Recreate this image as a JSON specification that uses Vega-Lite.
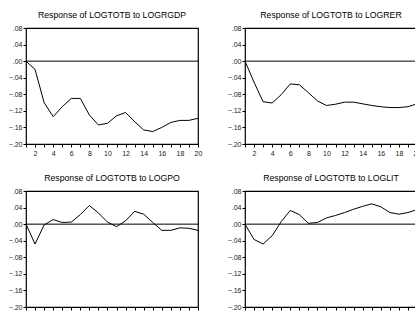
{
  "$schema": "https://vega.github.io/schema/vega-lite/v6.json",
  "padding": {"left": 7, "top": 10, "right": 0, "bottom": 0},
  "background": "white",
  "config": {
    "font": "Liberation Sans",
    "view": {"stroke": "black", "strokeWidth": 1.2},
    "axis": {"domain": false, "grid": false, "tickColor": "black", "tickSize": 3, "labelFontSize": 7, "labelColor": "#222", "title": null}
  },
  "data": {"values": [
    {"p": "Response of LOGTOTB to LOGRGDP", "h": 1, "v": 0},
    {"p": "Response of LOGTOTB to LOGRGDP", "h": 2, "v": -0.02},
    {"p": "Response of LOGTOTB to LOGRGDP", "h": 3, "v": -0.10},
    {"p": "Response of LOGTOTB to LOGRGDP", "h": 4, "v": -0.134},
    {"p": "Response of LOGTOTB to LOGRGDP", "h": 5, "v": -0.11},
    {"p": "Response of LOGTOTB to LOGRGDP", "h": 6, "v": -0.09},
    {"p": "Response of LOGTOTB to LOGRGDP", "h": 7, "v": -0.09},
    {"p": "Response of LOGTOTB to LOGRGDP", "h": 8, "v": -0.13},
    {"p": "Response of LOGTOTB to LOGRGDP", "h": 9, "v": -0.154},
    {"p": "Response of LOGTOTB to LOGRGDP", "h": 10, "v": -0.15},
    {"p": "Response of LOGTOTB to LOGRGDP", "h": 11, "v": -0.132},
    {"p": "Response of LOGTOTB to LOGRGDP", "h": 12, "v": -0.124},
    {"p": "Response of LOGTOTB to LOGRGDP", "h": 13, "v": -0.146},
    {"p": "Response of LOGTOTB to LOGRGDP", "h": 14, "v": -0.166},
    {"p": "Response of LOGTOTB to LOGRGDP", "h": 15, "v": -0.17},
    {"p": "Response of LOGTOTB to LOGRGDP", "h": 16, "v": -0.16},
    {"p": "Response of LOGTOTB to LOGRGDP", "h": 17, "v": -0.148},
    {"p": "Response of LOGTOTB to LOGRGDP", "h": 18, "v": -0.143},
    {"p": "Response of LOGTOTB to LOGRGDP", "h": 19, "v": -0.143},
    {"p": "Response of LOGTOTB to LOGRGDP", "h": 20, "v": -0.138},
    {"p": "Response of LOGTOTB to LOGRER", "h": 1, "v": 0},
    {"p": "Response of LOGTOTB to LOGRER", "h": 2, "v": -0.051},
    {"p": "Response of LOGTOTB to LOGRER", "h": 3, "v": -0.098},
    {"p": "Response of LOGTOTB to LOGRER", "h": 4, "v": -0.101},
    {"p": "Response of LOGTOTB to LOGRER", "h": 5, "v": -0.081},
    {"p": "Response of LOGTOTB to LOGRER", "h": 6, "v": -0.055},
    {"p": "Response of LOGTOTB to LOGRER", "h": 7, "v": -0.057},
    {"p": "Response of LOGTOTB to LOGRER", "h": 8, "v": -0.076},
    {"p": "Response of LOGTOTB to LOGRER", "h": 9, "v": -0.096},
    {"p": "Response of LOGTOTB to LOGRER", "h": 10, "v": -0.107},
    {"p": "Response of LOGTOTB to LOGRER", "h": 11, "v": -0.104},
    {"p": "Response of LOGTOTB to LOGRER", "h": 12, "v": -0.099},
    {"p": "Response of LOGTOTB to LOGRER", "h": 13, "v": -0.099},
    {"p": "Response of LOGTOTB to LOGRER", "h": 14, "v": -0.103},
    {"p": "Response of LOGTOTB to LOGRER", "h": 15, "v": -0.107},
    {"p": "Response of LOGTOTB to LOGRER", "h": 16, "v": -0.110},
    {"p": "Response of LOGTOTB to LOGRER", "h": 17, "v": -0.112},
    {"p": "Response of LOGTOTB to LOGRER", "h": 18, "v": -0.112},
    {"p": "Response of LOGTOTB to LOGRER", "h": 19, "v": -0.110},
    {"p": "Response of LOGTOTB to LOGRER", "h": 20, "v": -0.103},
    {"p": "Response of LOGTOTB to LOGPO", "h": 1, "v": 0},
    {"p": "Response of LOGTOTB to LOGPO", "h": 2, "v": -0.048},
    {"p": "Response of LOGTOTB to LOGPO", "h": 3, "v": -0.002},
    {"p": "Response of LOGTOTB to LOGPO", "h": 4, "v": 0.011},
    {"p": "Response of LOGTOTB to LOGPO", "h": 5, "v": 0.004},
    {"p": "Response of LOGTOTB to LOGPO", "h": 6, "v": 0.005},
    {"p": "Response of LOGTOTB to LOGPO", "h": 7, "v": 0.023},
    {"p": "Response of LOGTOTB to LOGPO", "h": 8, "v": 0.045},
    {"p": "Response of LOGTOTB to LOGPO", "h": 9, "v": 0.027},
    {"p": "Response of LOGTOTB to LOGPO", "h": 10, "v": 0.005},
    {"p": "Response of LOGTOTB to LOGPO", "h": 11, "v": -0.006},
    {"p": "Response of LOGTOTB to LOGPO", "h": 12, "v": 0.008},
    {"p": "Response of LOGTOTB to LOGPO", "h": 13, "v": 0.031},
    {"p": "Response of LOGTOTB to LOGPO", "h": 14, "v": 0.024},
    {"p": "Response of LOGTOTB to LOGPO", "h": 15, "v": 0.004},
    {"p": "Response of LOGTOTB to LOGPO", "h": 16, "v": -0.015},
    {"p": "Response of LOGTOTB to LOGPO", "h": 17, "v": -0.015},
    {"p": "Response of LOGTOTB to LOGPO", "h": 18, "v": -0.009},
    {"p": "Response of LOGTOTB to LOGPO", "h": 19, "v": -0.010},
    {"p": "Response of LOGTOTB to LOGPO", "h": 20, "v": -0.015},
    {"p": "Response of LOGTOTB to LOGLIT", "h": 1, "v": 0},
    {"p": "Response of LOGTOTB to LOGLIT", "h": 2, "v": -0.037},
    {"p": "Response of LOGTOTB to LOGLIT", "h": 3, "v": -0.048},
    {"p": "Response of LOGTOTB to LOGLIT", "h": 4, "v": -0.028},
    {"p": "Response of LOGTOTB to LOGLIT", "h": 5, "v": 0.006},
    {"p": "Response of LOGTOTB to LOGLIT", "h": 6, "v": 0.033},
    {"p": "Response of LOGTOTB to LOGLIT", "h": 7, "v": 0.023},
    {"p": "Response of LOGTOTB to LOGLIT", "h": 8, "v": 0.002},
    {"p": "Response of LOGTOTB to LOGLIT", "h": 9, "v": 0.004},
    {"p": "Response of LOGTOTB to LOGLIT", "h": 10, "v": 0.015},
    {"p": "Response of LOGTOTB to LOGLIT", "h": 11, "v": 0.021},
    {"p": "Response of LOGTOTB to LOGLIT", "h": 12, "v": 0.028},
    {"p": "Response of LOGTOTB to LOGLIT", "h": 13, "v": 0.036},
    {"p": "Response of LOGTOTB to LOGLIT", "h": 14, "v": 0.043},
    {"p": "Response of LOGTOTB to LOGLIT", "h": 15, "v": 0.049},
    {"p": "Response of LOGTOTB to LOGLIT", "h": 16, "v": 0.042},
    {"p": "Response of LOGTOTB to LOGLIT", "h": 17, "v": 0.028},
    {"p": "Response of LOGTOTB to LOGLIT", "h": 18, "v": 0.024},
    {"p": "Response of LOGTOTB to LOGLIT", "h": 19, "v": 0.028},
    {"p": "Response of LOGTOTB to LOGLIT", "h": 20, "v": 0.035}
  ]},
  "facet": {
    "field": "p", "type": "nominal",
    "sort": ["Response of LOGTOTB to LOGRGDP", "Response of LOGTOTB to LOGRER", "Response of LOGTOTB to LOGPO", "Response of LOGTOTB to LOGLIT"],
    "header": {"title": null, "labelFontSize": 8.7, "labelPadding": 4, "labelColor": "black", "labelFont": "Liberation Sans"}
  },
  "columns": 2,
  "spacing": {"row": 47, "column": 47},
  "bounds": "flush",
  "resolve": {"axis": {"x": "independent", "y": "independent"}},
  "spec": {
    "width": 172,
    "height": 116,
    "layer": [
      {
        "mark": {"type": "line", "color": "black", "strokeWidth": 1},
        "encoding": {
          "x": {"field": "h", "type": "quantitative",
                "scale": {"domain": [1, 20], "nice": false, "zero": false},
                "axis": {"values": [1,2,3,4,5,6,7,8,9,10,11,12,13,14,15,16,17,18,19,20], "labelExpr": "datum.value % 2 == 0 ? datum.label : ''", "labelPadding": 2, "labelFlush": false, "labelOverlap": false}},
          "y": {"field": "v", "type": "quantitative",
                "scale": {"domain": [-0.2, 0.08], "nice": false, "zero": false},
                "axis": {"values": [-0.2, -0.16, -0.12, -0.08, -0.04, 0, 0.04, 0.08], "labelExpr": "replace(format(datum.value, '.2f'), '0.', '.')", "labelPadding": 1, "labelFlush": false, "labelOverlap": false}}
        }
      },
      {
        "transform": [{"filter": "datum.h == 1"}],
        "mark": {"type": "rule", "color": "black", "strokeWidth": 1},
        "encoding": {"y": {"datum": 0, "type": "quantitative",
                "axis": {"values": [-0.2, -0.16, -0.12, -0.08, -0.04, 0, 0.04, 0.08], "labelExpr": "replace(format(datum.value, '.2f'), '0.', '.')", "labelPadding": 1, "labelFlush": false, "labelOverlap": false}}}
      }
    ]
  }
}
